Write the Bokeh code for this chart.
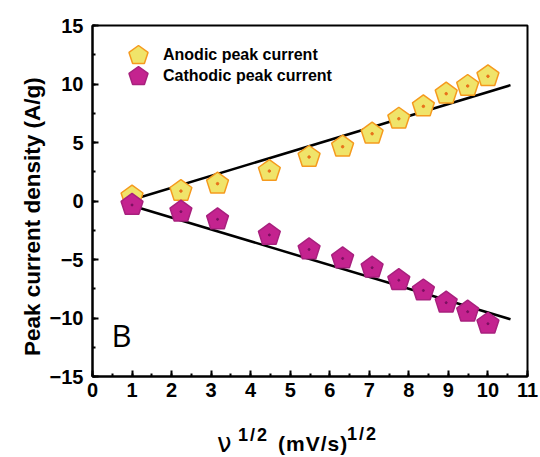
from bokeh.plotting import figure
from bokeh.models import Range1d, Label, Legend, LegendItem, SingleIntervalTicker, ColumnDataSource, Div
from bokeh.layouts import column
from bokeh.embed import file_html
from bokeh.resources import INLINE

# data: square root of scan rate (mV/s)^1/2
sqrt_rate = [1.0, 2.236, 3.162, 4.472, 5.477, 6.325, 7.071, 7.746, 8.367, 8.944, 9.487, 10.0]
anodic = [0.38, 0.85, 1.48, 2.56, 3.76, 4.64, 5.75, 7.03, 8.09, 9.17, 9.83, 10.66]
cathodic = [-0.34, -0.91, -1.57, -2.90, -4.14, -4.91, -5.70, -6.77, -7.65, -8.69, -9.46, -10.49]

fit_x = [0.75, 10.57]
fit_anodic = [-0.15, 9.90]
fit_cathodic = [-0.15, -10.11]

p = figure(width=540, height=410, output_backend="svg", toolbar_location=None,
           x_range=Range1d(0, 11), y_range=Range1d(-15, 15))
p.min_border_left = 92
p.min_border_right = 13
p.min_border_top = 25
p.min_border_bottom = 34
p.background_fill_color = "white"
p.border_fill_color = "white"
p.outline_line_color = "black"
p.outline_line_width = 2
p.grid.visible = False

font = "Liberation Sans"
for ax in (p.xaxis[0], p.yaxis[0]):
    ax.axis_line_width = 2
    ax.major_tick_in = 6
    ax.major_tick_out = 0
    ax.minor_tick_in = 3
    ax.minor_tick_out = 0
    ax.major_tick_line_width = 2
    ax.minor_tick_line_width = 2
    ax.major_label_text_font = font
    ax.major_label_text_font_style = "bold"
    ax.major_label_text_font_size = "20px"
    ax.major_label_text_color = "black"

p.xaxis.ticker = SingleIntervalTicker(interval=1, num_minor_ticks=2)
p.yaxis.ticker = SingleIntervalTicker(interval=5, num_minor_ticks=2)
p.xaxis.major_label_standoff = 6
p.yaxis.major_label_standoff = 9

p.yaxis.axis_label = "Peak current density (A/g)\u00a0\u00a0\u00a0\u00a0\u00a0"
p.yaxis.axis_label_text_font = font
p.yaxis.axis_label_text_font_style = "bold"
p.yaxis.axis_label_text_font_size = "22.5px"
p.yaxis.axis_label_text_color = "black"
p.yaxis.axis_label_standoff = 2

# fit lines
p.line(fit_x, fit_anodic, line_color="black", line_width=2.5)
p.line(fit_x, fit_cathodic, line_color="black", line_width=2.5)

src_a = ColumnDataSource(dict(x=sqrt_rate, y=anodic))
src_c = ColumnDataSource(dict(x=sqrt_rate, y=cathodic))

ra = p.ngon(x="x", y="y", radius=11.5, radius_units="screen", n=5, source=src_a,
            fill_color="#F0E46A", line_color="#F59A1E", line_width=1.5)
p.scatter(x="x", y="y", source=src_a, marker="circle", size=2.5, color="#E8701A")
rc = p.ngon(x="x", y="y", radius=11.5, radius_units="screen", n=5, source=src_c,
            fill_color="#C4238F", line_color="#A8207E", line_width=1.5)
p.scatter(x="x", y="y", source=src_c, marker="circle", size=2, color="#7A1060")


def make_legend(label, renderer, loc):
    lg = Legend(items=[LegendItem(label=label, renderers=[renderer])], location=loc)
    lg.border_line_color = None
    lg.background_fill_alpha = 0
    lg.label_text_font = font
    lg.label_text_font_style = "bold"
    lg.label_text_font_size = "16px"
    lg.label_text_color = "black"
    lg.glyph_width = 50
    lg.glyph_height = 50
    lg.label_height = 20
    lg.margin = 0
    lg.padding = 0
    lg.label_standoff = 0
    return lg


p.add_layout(make_legend("Anodic peak current", ra, (21, 296)))
p.add_layout(make_legend("Cathodic peak current", rc, (21, 275)))

p.add_layout(Label(x=0.48, y=-11.45, text="B", text_font="Open Sans",
                   text_font_size="31px", text_color="black",
                   text_baseline="middle"))

xlabel = Div(width=540, height=47, margin=0, text=(
    "<div style='position:relative;width:540px;height:47px;color:black;"
    "font-family:\"Liberation Sans\";font-weight:bold;line-height:1;'>"
    "<span style='position:absolute;left:217px;top:20px;font-family:\"DejaVu Sans\";"
    "font-weight:normal;font-size:26px;'>\u03bd</span>"
    "<span style='position:absolute;left:238px;top:16px;font-size:18px;letter-spacing:2px;'>1/2</span>"
    "<span style='position:absolute;left:278px;top:23px;font-size:21px;letter-spacing:1px;'>(mV/s)</span>"
    "<span style='position:absolute;left:347px;top:15px;font-size:18px;letter-spacing:2px;'>1/2</span>"
    "</div>"))

layout = column(p, xlabel, spacing=0)
open("out.html", "w").write(file_html(layout, INLINE))
